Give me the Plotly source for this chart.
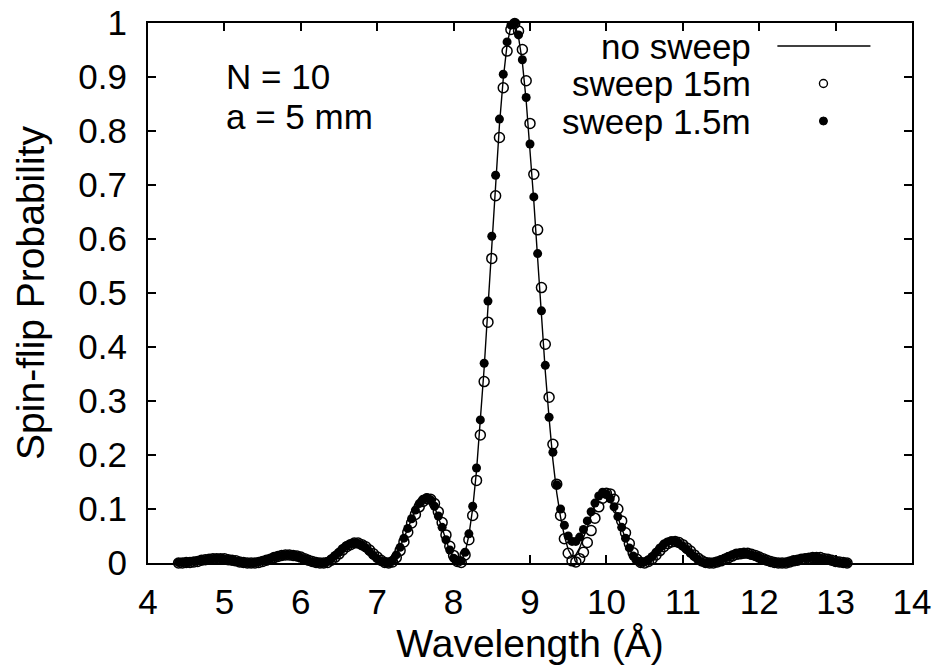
import numpy as np
import plotly.graph_objects as go

# Sampled wavelengths (Å), 4.40 ... 13.15 in 0.05 Å steps
wavelength = np.round(np.linspace(4.40, 13.15, 176), 2)

# Spin-flip probability, static field (no sweep)
no_sweep = [
    0.001, 0.000, 0.001, 0.002, 0.003, 0.004, 0.005, 0.007, 0.007, 0.008,
    0.008, 0.008, 0.007, 0.006, 0.004, 0.003, 0.002, 0.001, 0.000, 0.000,
    0.001, 0.002, 0.004, 0.006, 0.009, 0.011, 0.013, 0.015, 0.015, 0.015,
    0.014, 0.012, 0.009, 0.007, 0.004, 0.002, 0.001, 0.000, 0.000, 0.003,
    0.008, 0.014, 0.021, 0.027, 0.032, 0.036, 0.037, 0.036, 0.032, 0.027,
    0.021, 0.014, 0.008, 0.003, 0.000, 0.000, 0.005, 0.015, 0.029, 0.046,
    0.064, 0.081, 0.097, 0.109, 0.117, 0.120, 0.116, 0.104, 0.086, 0.065,
    0.042, 0.023, 0.008, 0.001, 0.003, 0.019, 0.051, 0.101, 0.171, 0.258,
    0.361, 0.474, 0.592, 0.706, 0.811, 0.897, 0.960, 0.994, 0.998, 0.974,
    0.927, 0.856, 0.769, 0.670, 0.564, 0.457, 0.355, 0.268, 0.190, 0.130,
    0.085, 0.050, 0.025, 0.012, 0.015, 0.028, 0.046, 0.066, 0.088, 0.109,
    0.125, 0.130, 0.127, 0.118, 0.103, 0.085, 0.065, 0.045, 0.027, 0.012,
    0.003, 0.000, 0.002, 0.006, 0.012, 0.020, 0.028, 0.034, 0.039, 0.040,
    0.039, 0.036, 0.031, 0.025, 0.018, 0.012, 0.006, 0.002, 0.000, 0.000,
    0.001, 0.003, 0.006, 0.009, 0.012, 0.015, 0.017, 0.018, 0.018, 0.017,
    0.015, 0.013, 0.010, 0.007, 0.004, 0.002, 0.000, 0.000, 0.000, 0.001,
    0.003, 0.005, 0.006, 0.008, 0.009, 0.010, 0.010, 0.010, 0.009, 0.007,
    0.006, 0.004, 0.002, 0.001, 0.000, 0.000,
]

# Field swept over a 15 m flight path
sweep_15m = [
    0.000, 0.000, 0.001, 0.001, 0.002, 0.003, 0.005, 0.006, 0.007, 0.008,
    0.008, 0.008, 0.008, 0.006, 0.005, 0.004, 0.002, 0.001, 0.000, 0.000,
    0.000, 0.001, 0.003, 0.005, 0.007, 0.010, 0.012, 0.014, 0.015, 0.015,
    0.014, 0.013, 0.011, 0.008, 0.005, 0.003, 0.001, 0.000, 0.000, 0.001,
    0.005, 0.011, 0.017, 0.024, 0.030, 0.034, 0.037, 0.037, 0.034, 0.030,
    0.024, 0.017, 0.011, 0.005, 0.001, 0.000, 0.002, 0.010, 0.023, 0.039,
    0.057, 0.074, 0.090, 0.104, 0.114, 0.119, 0.118, 0.110, 0.095, 0.075,
    0.052, 0.031, 0.014, 0.003, 0.001, 0.015, 0.043, 0.088, 0.153, 0.237,
    0.336, 0.446, 0.564, 0.680, 0.788, 0.880, 0.948, 0.988, 0.999, 0.985,
    0.951, 0.893, 0.814, 0.720, 0.617, 0.510, 0.405, 0.307, 0.220, 0.146,
    0.088, 0.045, 0.018, 0.004, 0.002, 0.008, 0.020, 0.038, 0.060, 0.083,
    0.104, 0.120, 0.129, 0.128, 0.118, 0.100, 0.078, 0.056, 0.036, 0.019,
    0.007, 0.001, 0.000, 0.003, 0.008, 0.015, 0.023, 0.030, 0.036, 0.039,
    0.040, 0.038, 0.034, 0.028, 0.022, 0.015, 0.009, 0.004, 0.001, 0.000,
    0.000, 0.002, 0.004, 0.007, 0.010, 0.013, 0.016, 0.017, 0.018, 0.018,
    0.016, 0.014, 0.011, 0.008, 0.005, 0.003, 0.001, 0.000, 0.000, 0.000,
    0.002, 0.004, 0.005, 0.007, 0.008, 0.009, 0.010, 0.010, 0.010, 0.008,
    0.007, 0.005, 0.003, 0.002, 0.001, 0.000,
]

# Field swept over a 1.5 m flight path
sweep_1p5m = [
    0.001, 0.001, 0.001, 0.002, 0.003, 0.004, 0.005, 0.006, 0.007, 0.008,
    0.008, 0.008, 0.007, 0.006, 0.005, 0.003, 0.002, 0.001, 0.000, 0.000,
    0.001, 0.002, 0.004, 0.006, 0.008, 0.011, 0.013, 0.014, 0.015, 0.015,
    0.014, 0.012, 0.010, 0.007, 0.004, 0.002, 0.001, 0.000, 0.000, 0.003,
    0.008, 0.014, 0.020, 0.027, 0.032, 0.035, 0.037, 0.036, 0.033, 0.028,
    0.021, 0.014, 0.008, 0.003, 0.001, 0.000, 0.005, 0.015, 0.029, 0.046,
    0.064, 0.082, 0.098, 0.110, 0.118, 0.121, 0.117, 0.105, 0.087, 0.066,
    0.043, 0.024, 0.009, 0.003, 0.004, 0.020, 0.054, 0.105, 0.176, 0.265,
    0.370, 0.485, 0.605, 0.718, 0.822, 0.905, 0.965, 0.996, 1.000, 0.978,
    0.932, 0.862, 0.776, 0.678, 0.573, 0.467, 0.366, 0.270, 0.205, 0.145,
    0.100, 0.070, 0.050, 0.040, 0.040, 0.048, 0.062, 0.078, 0.095, 0.111,
    0.124, 0.131, 0.128, 0.119, 0.104, 0.086, 0.066, 0.046, 0.028, 0.013,
    0.004, 0.001, 0.002, 0.006, 0.012, 0.020, 0.028, 0.035, 0.039, 0.041,
    0.040, 0.036, 0.031, 0.025, 0.018, 0.012, 0.006, 0.002, 0.000, 0.000,
    0.001, 0.003, 0.006, 0.009, 0.012, 0.015, 0.017, 0.018, 0.018, 0.017,
    0.015, 0.013, 0.010, 0.007, 0.004, 0.002, 0.001, 0.000, 0.000, 0.001,
    0.003, 0.005, 0.006, 0.008, 0.009, 0.010, 0.010, 0.010, 0.009, 0.007,
    0.006, 0.004, 0.002, 0.001, 0.000, 0.000,
]

series_names = ["no sweep", "sweep 15m", "sweep 1.5m"]
info_lines = ["N = 10", "a = 5 mm"]

FONT = "Liberation Sans, Arial, Helvetica, sans-serif"
FS = 35        # tick labels, key and in-plot notes
FS_TITLE = 39  # axis titles

fig = go.Figure()
fig.add_trace(go.Scatter(
    x=wavelength, y=no_sweep, mode="lines", name=series_names[0],
    line=dict(color="black", width=1.4), cliponaxis=False, showlegend=False))
fig.add_trace(go.Scatter(
    x=wavelength, y=sweep_15m, mode="markers", name=series_names[1],
    marker=dict(symbol="circle-open", size=10, color="black", line=dict(width=1.5)),
    cliponaxis=False, showlegend=False))
fig.add_trace(go.Scatter(
    x=wavelength, y=sweep_1p5m, mode="markers", name=series_names[2],
    marker=dict(symbol="circle", size=9, color="black"),
    cliponaxis=False, showlegend=False))

axis_common = dict(
    showline=True, linecolor="black", linewidth=2, mirror="ticks",
    ticks="inside", ticklen=8, tickwidth=1.5, tickcolor="black",
    showgrid=False, zeroline=False,
    tickfont=dict(family=FONT, size=FS, color="black"),
)

fig.update_xaxes(range=[4, 14], tick0=4, dtick=1, ticklabelstandoff=7,
                 title=dict(text="Wavelength (Å)", standoff=10,
                            font=dict(family=FONT, size=FS_TITLE, color="black")),
                 **axis_common)
fig.update_yaxes(range=[0, 1], tick0=0, dtick=0.1, ticklabelstandoff=12,
                 title=dict(text="Spin-flip Probability", standoff=22,
                            font=dict(family=FONT, size=FS_TITLE, color="black")),
                 **axis_common)

# Key drawn gnuplot-style: right-aligned labels followed by the sample glyph
key_rows = [0.9574, 0.888, 0.8185]
annotations = []
for name, yy in zip(series_names, key_rows):
    annotations.append(dict(
        x=0.7924, y=yy, xref="paper", yref="paper", text=name, showarrow=False,
        xanchor="right", yanchor="middle",
        font=dict(family=FONT, size=FS, color="black")))
for txt, yy in zip(info_lines, [0.9, 0.827]):
    annotations.append(dict(
        x=0.1, y=yy, xref="paper", yref="paper", text=txt, showarrow=False,
        xanchor="left", yanchor="middle",
        font=dict(family=FONT, size=FS, color="black")))

shapes = [
    dict(type="line", xref="paper", yref="paper", x0=0.8238, x1=0.9456,
         y0=key_rows[0], y1=key_rows[0], line=dict(color="black", width=1.4)),
    dict(type="circle", xref="paper", yref="paper", xsizemode="pixel", ysizemode="pixel",
         xanchor=0.8841, yanchor=key_rows[1], x0=-4, x1=4, y0=-4, y1=4,
         line=dict(color="black", width=1.4)),
    dict(type="circle", xref="paper", yref="paper", xsizemode="pixel", ysizemode="pixel",
         xanchor=0.8841, yanchor=key_rows[2], x0=-4, x1=4, y0=-4, y1=4,
         fillcolor="black", line=dict(color="black", width=1)),
]

fig.update_layout(
    width=937, height=672,
    margin=dict(l=148, r=25, t=23, b=109, autoexpand=False),
    paper_bgcolor="white", plot_bgcolor="white",
    font=dict(family=FONT, size=FS, color="black"),
    annotations=annotations, shapes=shapes,
)

fig.write_html("out.html")
